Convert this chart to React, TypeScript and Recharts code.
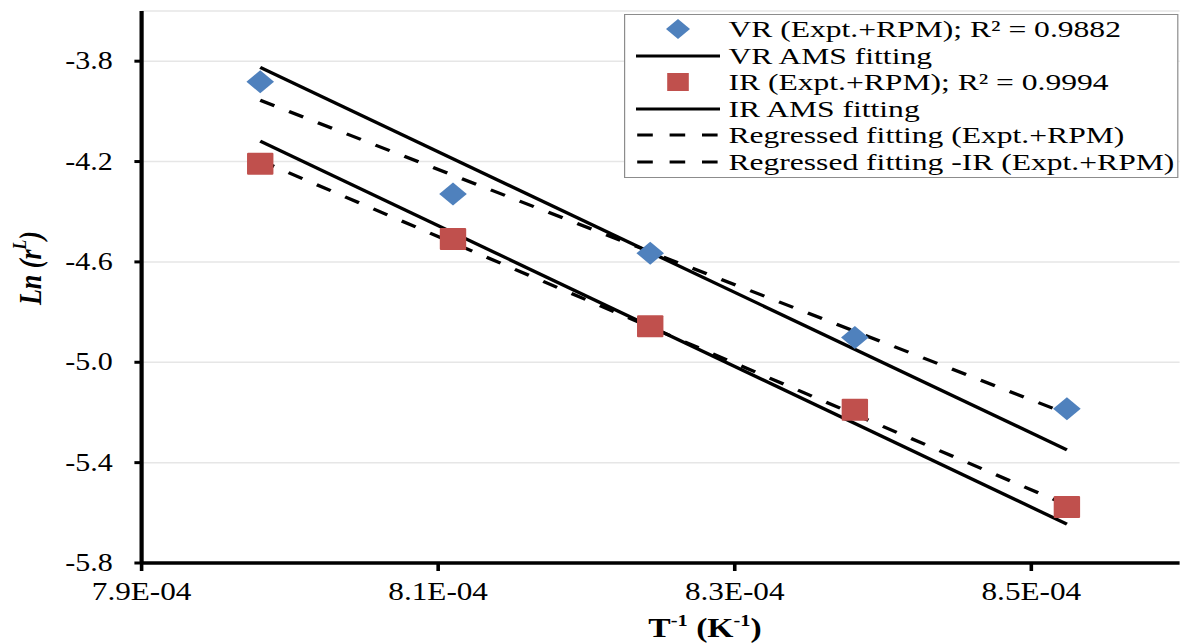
import { ComposedChart, Scatter, Line, XAxis, YAxis, CartesianGrid, Legend } from 'recharts';

// inverse temperature, K^-1
const xVals = [7.98e-4, 8.11e-4, 8.243e-4, 8.381e-4, 8.524e-4];
const vrVals = [-3.882, -4.329, -4.565, -4.901, -5.185];
const irVals = [-4.209, -4.509, -4.856, -5.189, -5.577];

// fitted lines, end points
const fitX = [7.98e-4, 8.524e-4];
const vrAms = [-3.825, -5.349];
const irAms = [-4.119, -5.645];
const vrReg = [-3.956, -5.205];
const irReg = [-4.196, -5.569];

const xTicks = [7.9e-4, 8.1e-4, 8.3e-4, 8.5e-4];
const yTicks = [-5.8, -5.4, -5.0, -4.6, -4.2, -3.8];

const legendItems = [
  { label: 'VR (Expt.+RPM); R² = 0.9882', kind: 'diamond' },
  { label: 'VR AMS fitting', kind: 'solid' },
  { label: 'IR (Expt.+RPM); R² = 0.9994', kind: 'square' },
  { label: 'IR AMS fitting', kind: 'solid' },
  { label: 'Regressed fitting (Expt.+RPM)', kind: 'dash' },
  { label: 'Regressed fitting -IR (Expt.+RPM)', kind: 'dash' },
];

const BLUE = '#4F81BD';
const RED = '#C0504D';
const FONT = 'Liberation Serif';
const STRETCH = 1.2;
const W = 985;
const H = 644;

const toPoints = (xs: number[], ys: number[]) => xs.map((x, i) => ({ x, y: ys[i] }));

const vrData = toPoints(xVals, vrVals);
const irData = toPoints(xVals, irVals);

const Diamond = (props: any) => {
  const { cx, cy } = props;
  const r = 11.5;
  return <polygon points={`${cx},${cy - r} ${cx + r},${cy} ${cx},${cy + r} ${cx - r},${cy}`} fill={BLUE} />;
};

const Square = (props: any) => {
  const { cx, cy } = props;
  return <rect x={cx - 11} y={cy - 11} width={22} height={22} rx={1} fill={RED} />;
};

const fmtX = (v: number) => v.toExponential(1).replace('e-', 'E-0');
const fmtY = (v: number) => v.toFixed(1);

const XTick = ({ x, y, payload }: any) => (
  <text x={x} y={y + 25} textAnchor="middle" fontFamily={FONT} fontSize={26} style={{ fontFamily: FONT }} fill="#000">
    {fmtX(payload.value)}
  </text>
);

const YTick = ({ x, y, payload }: any) => (
  <text x={x} y={y} dy={8} textAnchor="end" fontFamily={FONT} fontSize={25} style={{ fontFamily: FONT }} fill="#000">
    {fmtY(payload.value)}
  </text>
);

const LegendBox = () => (
  <div
    style={{
      border: '1px solid #8c8c8c',
      background: '#fff',
      fontFamily: FONT,
      color: '#000',
      height: 164,
      paddingTop: 1,
      boxSizing: 'border-box',
    }}
  >
    {legendItems.map((item) => (
      <div key={item.label} style={{ display: 'flex', alignItems: 'center', height: 26.5, whiteSpace: 'nowrap' }}>
        <svg width={70} height={26} style={{ marginLeft: 9, marginRight: 7, flex: 'none' }}>
          {item.kind === 'diamond' && <polygon points="35,3 45,13 35,23 25,13" fill={BLUE} />}
          {item.kind === 'square' && <rect x={26} y={4} width={18} height={18} fill={RED} />}
          {item.kind === 'solid' && <line x1={0} y1={13} x2={70} y2={13} stroke="#000" strokeWidth={3} />}
          {item.kind === 'dash' && (
            <line x1={1} y1={13} x2={70} y2={13} stroke="#000" strokeWidth={3} strokeDasharray="13 14" />
          )}
        </svg>
        <div
          style={{
            lineHeight: '26px',
            fontSize: 23.5,
            transform: 'scaleX(1.12)',
            transformOrigin: '0 50%',
          }}
        >
          {item.label}
        </div>
      </div>
    ))}
  </div>
);

const YLabel = ({ viewBox }: any) => {
  const x = viewBox.x + 25;
  const y = viewBox.y + viewBox.height / 2 - 19;
  return (
    <text
      x={x}
      y={y}
      transform={`rotate(-90, ${x}, ${y})`}
      textAnchor="middle"
      dominantBaseline="central"
      style={{ fontFamily: FONT, fontSize: 26, fontWeight: 'bold', fontStyle: 'italic' }}
      fill="#000"
    >
      Ln (r
      <tspan dy={-9} fontSize={16}>L</tspan>
      <tspan dy={9}>)</tspan>
    </text>
  );
};

const XLabel = ({ viewBox }: any) => {
  const x = viewBox.x + viewBox.width / 2 + 37;
  const y = viewBox.y + 74;
  return (
    <text x={x} y={y} textAnchor="middle" style={{ fontFamily: FONT, fontSize: 28, fontWeight: 'bold' }} fill="#000">
      T
      <tspan dy={-11} fontSize={17}>-1</tspan>
      <tspan dy={11}> (K</tspan>
      <tspan dy={-11} fontSize={17}>-1</tspan>
      <tspan dy={11}>)</tspan>
    </text>
  );
};

export default function App() {
  return (
    <div style={{ position: 'absolute', left: 0, top: 0, width: 1182, height: H, overflow: 'hidden', background: '#fff' }}>
      <div style={{ width: W, height: H, transform: `scaleX(${STRETCH})`, transformOrigin: '0 0', fontFamily: FONT }}>
        <ComposedChart width={W} height={H} margin={{ top: 11, right: 2, left: 0, bottom: 0 }}>
          <CartesianGrid vertical={false} stroke="#e6e6e6" strokeWidth={1.5} />
          <XAxis
            type="number"
            dataKey="x"
            domain={[7.9e-4, 8.6e-4]}
            ticks={xTicks}
            height={81}
            tick={<XTick />}
            tickSize={8}
            tickMargin={4}
            tickLine={{ stroke: '#000', strokeWidth: 3 }}
            axisLine={{ stroke: '#000', strokeWidth: 3.5 }}
            label={<XLabel />}
          />
          <XAxis
            xAxisId="top"
            orientation="top"
            type="number"
            domain={[7.9e-4, 8.6e-4]}
            height={0}
            tick={false}
            tickLine={false}
            axisLine={{ stroke: '#000', strokeWidth: 3.5 }}
          />
          <YAxis
            type="number"
            dataKey="y"
            domain={[-5.8, -3.6]}
            ticks={yTicks}
            width={118}
            tick={<YTick />}
            tickSize={6}
            tickMargin={18}
            tickLine={{ stroke: '#000', strokeWidth: 3 }}
            axisLine={{ stroke: '#000', strokeWidth: 3.5 }}
            label={<YLabel />}
          />
          <YAxis
            yAxisId="right"
            orientation="right"
            type="number"
            domain={[-5.8, -3.6]}
            width={0}
            tick={false}
            tickLine={false}
            axisLine={{ stroke: '#000', strokeWidth: 2.5 }}
          />
          <Legend
            layout="vertical"
            align="center"
            verticalAlign="middle"
            content={<LegendBox />}
            wrapperStyle={{ left: 520, top: 14, width: 462, height: 164 }}
          />
          <Scatter name="VR (Expt.+RPM)" data={vrData} dataKey="y" shape={<Diamond />} isAnimationActive={false} />
          <Scatter name="IR (Expt.+RPM)" data={irData} dataKey="y" shape={<Square />} isAnimationActive={false} />
          <Line data={toPoints(fitX, vrAms)} dataKey="y" stroke="#000" strokeWidth={3.2} dot={false} activeDot={false} isAnimationActive={false} />
          <Line data={toPoints(fitX, irAms)} dataKey="y" stroke="#000" strokeWidth={3.2} dot={false} activeDot={false} isAnimationActive={false} />
          <Line data={toPoints(fitX, vrReg)} dataKey="y" stroke="#000" strokeWidth={3.2} strokeDasharray="13 13.5" dot={false} activeDot={false} isAnimationActive={false} />
          <Line data={toPoints(fitX, irReg)} dataKey="y" stroke="#000" strokeWidth={3.2} strokeDasharray="13 13.5" dot={false} activeDot={false} isAnimationActive={false} />
        </ComposedChart>
      </div>
    </div>
  );
}
